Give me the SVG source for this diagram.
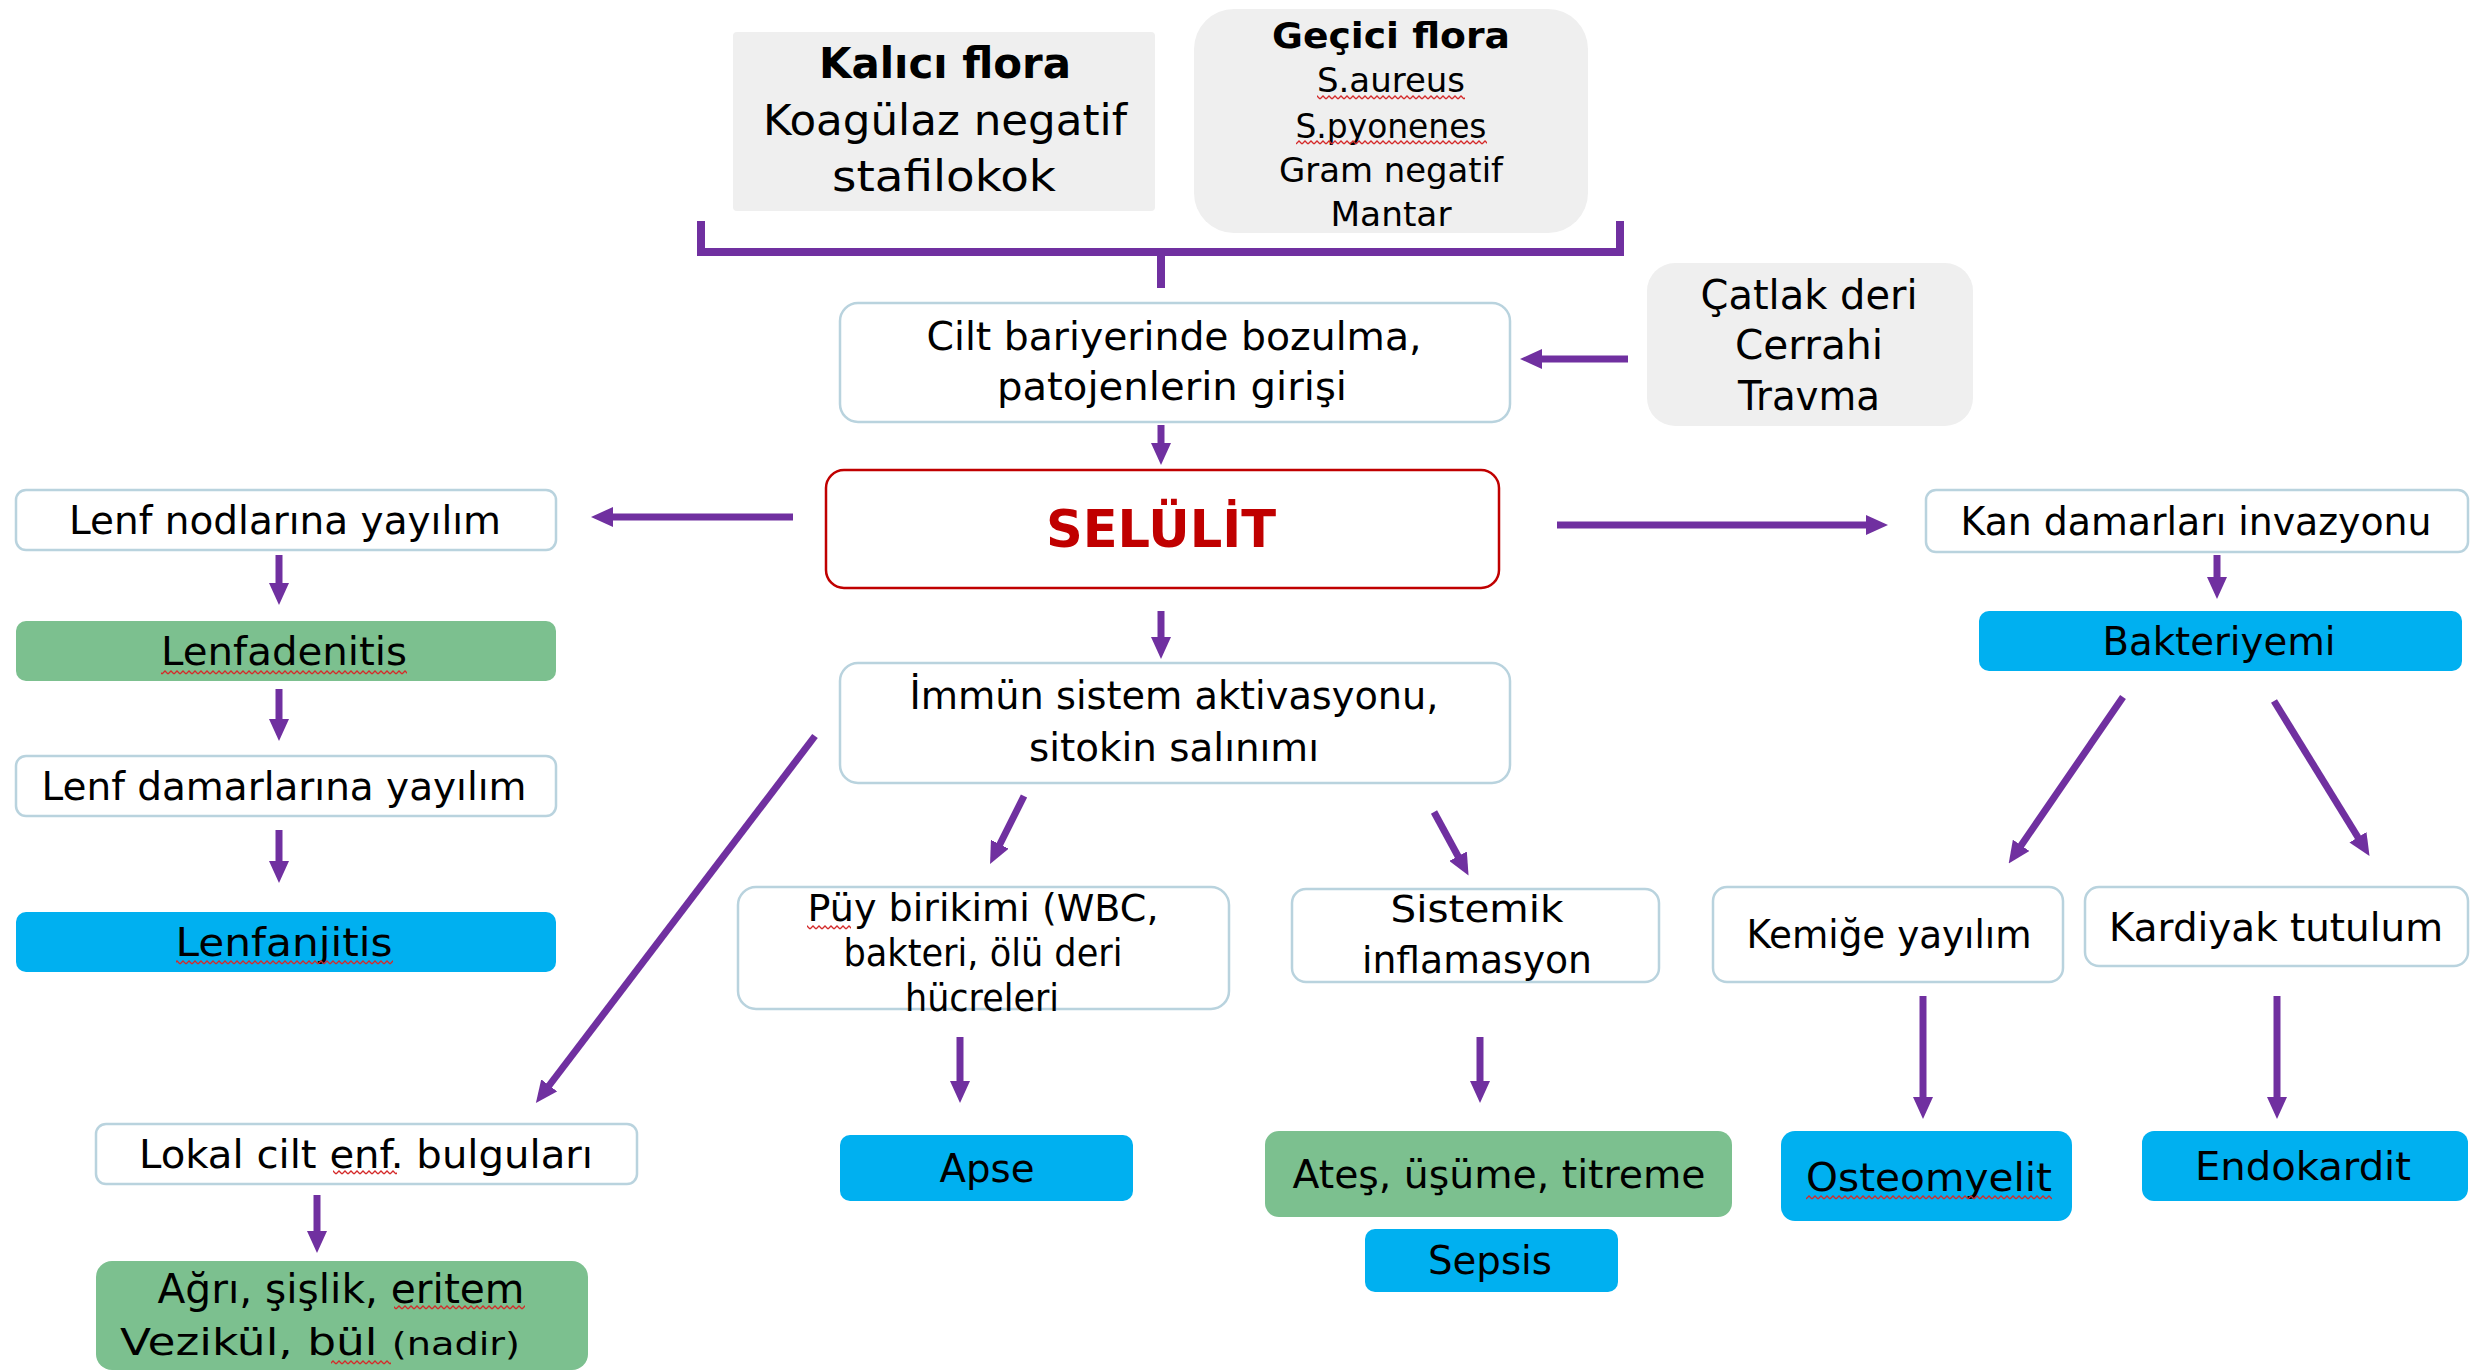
<svg xmlns="http://www.w3.org/2000/svg" width="2471" height="1372" viewBox="0 0 2471 1372">
<defs>
<style>
.t{font-family:"DejaVu Sans","Liberation Sans",sans-serif;fill:#000;text-anchor:middle}
.b{font-weight:bold}
.box{fill:#fff;stroke:#b9d3de;stroke-width:2.5}
.gray{fill:#efefef}
.green{fill:#7cc08f}
.blue{fill:#00b0f0}
.sel{fill:#fff;stroke:#c00000;stroke-width:2.5}
.arr{stroke:#7030a0;stroke-width:7;fill:none;marker-end:url(#ah)}
.brk{stroke:#7030a0;stroke-width:8;fill:none}
.wv{fill:url(#wave)}
</style>
<marker id="ah" viewBox="0 0 22 20" markerWidth="22" markerHeight="20" refX="2" refY="10" orient="auto" markerUnits="userSpaceOnUse">
<path d="M0,0 L22,10 L0,20 z" fill="#7030a0"/>
</marker>
<pattern id="wave" width="6" height="5" patternUnits="userSpaceOnUse">
<path d="M0,4 L3,1 L6,4" fill="none" stroke="#d42a2a" stroke-width="1.3"/>
</pattern>
</defs>
<rect width="2471" height="1372" fill="#fff"/>

<g id="kalici">
<rect class="gray" x="733" y="32" width="422" height="179" rx="4"/>
<text class="t b" x="945" y="78" font-size="43" textLength="252" lengthAdjust="spacingAndGlyphs">Kalıcı flora</text>
<text class="t" x="945" y="135" font-size="43" textLength="364" lengthAdjust="spacingAndGlyphs">Koagülaz negatif</text>
<text class="t" x="944" y="191" font-size="43" textLength="224" lengthAdjust="spacingAndGlyphs">stafilokok</text>
</g>

<g id="gecici">
<rect class="gray" x="1194" y="9" width="394" height="224" rx="40"/>
<text class="t b" x="1391" y="48" font-size="36" textLength="238" lengthAdjust="spacingAndGlyphs">Geçici flora</text>
<text class="t" x="1391" y="92" font-size="34" textLength="148" lengthAdjust="spacingAndGlyphs">S.aureus</text>
<text class="t" x="1391" y="138" font-size="34" textLength="191" lengthAdjust="spacingAndGlyphs">S.pyonenes</text>
<text class="t" x="1391" y="182" font-size="34" textLength="224" lengthAdjust="spacingAndGlyphs">Gram negatif</text>
<text class="t" x="1391" y="226" font-size="34" textLength="121" lengthAdjust="spacingAndGlyphs">Mantar</text>
</g>

<g id="cilt">
<rect class="box" x="840" y="303" width="670" height="119" rx="18"/>
<text class="t" x="1174" y="350" font-size="39" textLength="495" lengthAdjust="spacingAndGlyphs">Cilt bariyerinde bozulma,</text>
<text class="t" x="1172" y="400" font-size="39" textLength="350" lengthAdjust="spacingAndGlyphs">patojenlerin girişi</text>
</g>

<g id="catlak">
<rect class="gray" x="1647" y="263" width="326" height="163" rx="28"/>
<text class="t" x="1809" y="309" font-size="40" textLength="217" lengthAdjust="spacingAndGlyphs">Çatlak deri</text>
<text class="t" x="1809" y="359" font-size="40" textLength="148" lengthAdjust="spacingAndGlyphs">Cerrahi</text>
<text class="t" x="1809" y="410" font-size="40" textLength="142" lengthAdjust="spacingAndGlyphs">Travma</text>
</g>

<g id="selulit">
<rect class="sel" x="826" y="470" width="673" height="118" rx="18"/>
<text class="t b" x="1161" y="547" font-size="52" style="fill:#c00000" textLength="230" lengthAdjust="spacingAndGlyphs">SELÜLİT</text>
</g>

<g id="lenfnod">
<rect class="box" x="16" y="490" width="540" height="60" rx="10"/>
<text class="t" x="285" y="534" font-size="39" textLength="432" lengthAdjust="spacingAndGlyphs">Lenf nodlarına yayılım</text>
</g>
<g id="lenfadenitis">
<rect class="green" x="16" y="621" width="540" height="60" rx="10"/>
<text class="t" x="284" y="665" font-size="39" textLength="246" lengthAdjust="spacingAndGlyphs">Lenfadenitis</text>
</g>
<g id="lenfdamar">
<rect class="box" x="16" y="756" width="540" height="60" rx="10"/>
<text class="t" x="284" y="800" font-size="39" textLength="485" lengthAdjust="spacingAndGlyphs">Lenf damarlarına yayılım</text>
</g>
<g id="lenfanjitis">
<rect class="blue" x="16" y="912" width="540" height="60" rx="10"/>
<text class="t" x="284" y="956" font-size="39" textLength="217" lengthAdjust="spacingAndGlyphs">Lenfanjitis</text>
</g>

<g id="lokal">
<rect class="box" x="96" y="1124" width="541" height="60" rx="10"/>
<text class="t" x="366" y="1168" font-size="39" textLength="454" lengthAdjust="spacingAndGlyphs">Lokal cilt enf. bulguları</text>
</g>
<g id="agri">
<rect class="green" x="96" y="1261" width="492" height="109" rx="16"/>
<text class="t" x="341" y="1303" font-size="40" textLength="367" lengthAdjust="spacingAndGlyphs">Ağrı, şişlik, eritem</text>
<text class="t" x="320" y="1355" font-size="38" textLength="400" lengthAdjust="spacingAndGlyphs">Vezikül, bül <tspan font-size="32">(nadir)</tspan></text>
</g>

<g id="immun">
<rect class="box" x="840" y="663" width="670" height="120" rx="18"/>
<text class="t" x="1174" y="709" font-size="39" textLength="529" lengthAdjust="spacingAndGlyphs">İmmün sistem aktivasyonu,</text>
<text class="t" x="1174" y="761" font-size="39" textLength="290" lengthAdjust="spacingAndGlyphs">sitokin salınımı</text>
</g>

<g id="puy">
<rect class="box" x="738" y="887" width="491" height="122" rx="18"/>
<text class="t" x="983" y="921" font-size="37" textLength="351" lengthAdjust="spacingAndGlyphs">Püy birikimi (WBC,</text>
<text class="t" x="983" y="966" font-size="37" textLength="279" lengthAdjust="spacingAndGlyphs">bakteri, ölü deri</text>
<text class="t" x="982" y="1011" font-size="37" textLength="154" lengthAdjust="spacingAndGlyphs">hücreleri</text>
</g>
<g id="sistemik">
<rect class="box" x="1292" y="889" width="367" height="93" rx="14"/>
<text class="t" x="1477" y="922" font-size="38" textLength="173" lengthAdjust="spacingAndGlyphs">Sistemik</text>
<text class="t" x="1477" y="973" font-size="38" textLength="230" lengthAdjust="spacingAndGlyphs">inflamasyon</text>
</g>
<g id="apse">
<rect class="blue" x="840" y="1135" width="293" height="66" rx="10"/>
<text class="t" x="987" y="1182" font-size="39" textLength="95" lengthAdjust="spacingAndGlyphs">Apse</text>
</g>
<g id="ates">
<rect class="green" x="1265" y="1131" width="467" height="86" rx="14"/>
<text class="t" x="1499" y="1188" font-size="39" textLength="413" lengthAdjust="spacingAndGlyphs">Ateş, üşüme, titreme</text>
</g>
<g id="sepsis">
<rect class="blue" x="1365" y="1229" width="253" height="63" rx="10"/>
<text class="t" x="1490" y="1274" font-size="39" textLength="124" lengthAdjust="spacingAndGlyphs">Sepsis</text>
</g>

<g id="kan">
<rect class="box" x="1926" y="490" width="542" height="62" rx="10"/>
<text class="t" x="2196" y="535" font-size="39" textLength="471" lengthAdjust="spacingAndGlyphs">Kan damarları invazyonu</text>
</g>
<g id="bakteriyemi">
<rect class="blue" x="1979" y="611" width="483" height="60" rx="10"/>
<text class="t" x="2219" y="655" font-size="39" textLength="233" lengthAdjust="spacingAndGlyphs">Bakteriyemi</text>
</g>
<g id="kemige">
<rect class="box" x="1713" y="887" width="350" height="95" rx="14"/>
<text class="t" x="1889" y="948" font-size="39" textLength="285" lengthAdjust="spacingAndGlyphs">Kemiğe yayılım</text>
</g>
<g id="kardiyak">
<rect class="box" x="2085" y="887" width="383" height="79" rx="14"/>
<text class="t" x="2276" y="941" font-size="39" textLength="334" lengthAdjust="spacingAndGlyphs">Kardiyak tutulum</text>
</g>
<g id="osteomyelit">
<rect class="blue" x="1781" y="1131" width="291" height="90" rx="14"/>
<text class="t" x="1929" y="1191" font-size="39" textLength="246" lengthAdjust="spacingAndGlyphs">Osteomyelit</text>
</g>
<g id="endokardit">
<rect class="blue" x="2142" y="1131" width="326" height="70" rx="12"/>
<text class="t" x="2303" y="1180" font-size="39" textLength="216" lengthAdjust="spacingAndGlyphs">Endokardit</text>
</g>

<g id="spellcheck">
<rect class="wv" x="1317" y="95" width="148" height="5"/>
<rect class="wv" x="1296" y="140" width="191" height="5"/>
<rect class="wv" x="161" y="670" width="246" height="5"/>
<rect class="wv" x="176" y="960" width="217" height="5"/>
<rect class="wv" x="333" y="1170" width="64" height="5"/>
<rect class="wv" x="394" y="1305" width="131" height="5"/>
<rect class="wv" x="331" y="1360" width="60" height="5"/>
<rect class="wv" x="807" y="925" width="44" height="5"/>
<rect class="wv" x="1806" y="1195" width="246" height="5"/>
</g>

<g id="connectors">
<path class="brk" d="M701,221 V252 H1620 V221"/>
<path class="brk" d="M1161,252 V288"/>
<line class="arr" x1="1628" y1="359" x2="1540" y2="359"/>
<line class="arr" x1="1161" y1="425" x2="1161" y2="445"/>
<line class="arr" x1="793" y1="517" x2="611" y2="517"/>
<line class="arr" x1="1557" y1="525" x2="1868" y2="525"/>
<line class="arr" x1="1161" y1="611" x2="1161" y2="639"/>
<line class="arr" x1="279" y1="555" x2="279" y2="585"/>
<line class="arr" x1="279" y1="689" x2="279" y2="721"/>
<line class="arr" x1="279" y1="830" x2="279" y2="863"/>
<line class="arr" x1="317" y1="1195" x2="317" y2="1233"/>
<line class="arr" x1="815" y1="736" x2="548" y2="1087"/>
<line class="arr" x1="1024" y1="796" x2="999" y2="846"/>
<line class="arr" x1="1434" y1="812" x2="1459" y2="858"/>
<line class="arr" x1="960" y1="1037" x2="960" y2="1083"/>
<line class="arr" x1="1480" y1="1037" x2="1480" y2="1083"/>
<line class="arr" x1="2217" y1="555" x2="2217" y2="579"/>
<line class="arr" x1="2123" y1="697" x2="2020" y2="847"/>
<line class="arr" x1="2274" y1="701" x2="2359" y2="839"/>
<line class="arr" x1="1923" y1="996" x2="1923" y2="1099"/>
<line class="arr" x1="2277" y1="996" x2="2277" y2="1099"/>
</g>
</svg>
